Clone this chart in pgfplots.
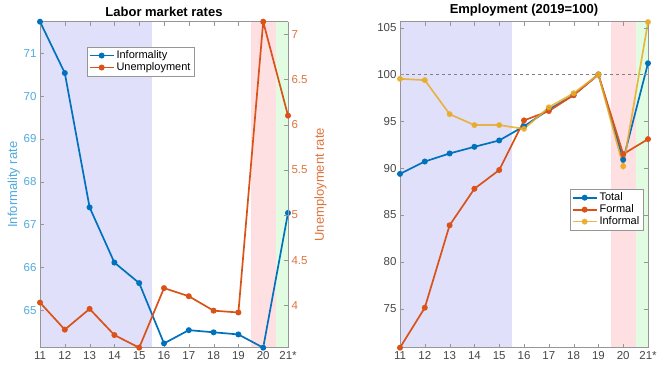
\documentclass[border=0pt]{standalone}
\usepackage{fontspec}
\setmainfont{Liberation Sans}
\usepackage{pgfplots}
\pgfplotsset{compat=1.18}
\definecolor{mblue}{RGB}{0,114,189}
\definecolor{morange}{RGB}{217,83,25}
\definecolor{myellow}{RGB}{232,172,40}
\definecolor{shblue}{RGB}{224,224,250}
\definecolor{shred}{RGB}{255,224,226}
\definecolor{shgreen}{RGB}{226,252,226}
\definecolor{lblue}{RGB}{80,170,220}
\definecolor{lorange}{RGB}{222,115,60}
\definecolor{tgray}{RGB}{70,70,70}
\definecolor{agray}{RGB}{150,150,150}
\begin{document}
\begin{tikzpicture}[x=1pt,y=1pt]
\useasboundingbox (0,0) rectangle (657,367);
\pgfplotsset{
  base/.style={
    scale only axis, width=248pt, height=326pt, anchor=south west,
    xmin=11, xmax=21,
    xtick={11,...,21}, xticklabels={11,12,13,14,15,16,17,18,19,20,21*},
    tick align=inside, major tick length=4pt,
    axis line style={agray}, tick style={agray},
    ticklabel style={font=\fontsize{11.5}{13}\selectfont, text=tgray},
    /pgf/number format/assume math mode=true,
    axis on top,
    title style={font=\bfseries\fontsize{13}{15}\selectfont, yshift=-4pt},
    legend style={font=\fontsize{11}{12.5}\selectfont, draw=agray, fill=white,
      inner sep=1.5pt, row sep=-1.5pt, cells={anchor=west}},
    legend cell align=left,
    legend image code/.code={\draw[mark repeat=2,mark phase=2,##1] plot coordinates {(0pt,0pt) (12pt,0pt) (24pt,0pt)};},
  },
  ln/.style={line width=1.7pt, mark=*, mark size=2.1pt},
}
% ---------- Left panel, primary axis ----------
\begin{axis}[base, at={(40pt,19.3pt)},
  ymin=64.12, ymax=71.74, ytick={65,...,71},
  axis y line*=left,
  yticklabel style={text=lblue},
  ylabel={Informality rate}, ylabel style={text=lblue, font=\fontsize{13}{15}\selectfont, yshift=-3pt},
  title={Labor market rates}]
\addplot[fill=shblue, draw=none] coordinates {(11,64.12) (15.5,64.12) (15.5,71.74) (11,71.74)} -- cycle;
\addplot[fill=shred, draw=none] coordinates {(19.5,64.12) (20.5,64.12) (20.5,71.74) (19.5,71.74)} -- cycle;
\addplot[fill=shgreen, draw=none] coordinates {(20.5,64.12) (21,64.12) (21,71.74) (20.5,71.74)} -- cycle;
\addplot[ln, mblue] coordinates {(11,71.74) (12,70.54) (13,67.40) (14,66.11) (15,65.63) (16,64.22) (17,64.53) (18,64.48) (19,64.43) (20,64.12) (21,67.27)};
\end{axis}
% ---------- Left panel, secondary axis ----------
\begin{axis}[base, at={(40pt,19.3pt)},
  ymin=3.53, ymax=7.14, ytick={4,4.5,...,7},
  axis y line*=right, axis x line=none,
  yticklabel style={text=lorange},
  ylabel={Unemployment rate}, ylabel style={text=lorange, font=\fontsize{13}{15}\selectfont},
  legend style={at={(0.19,0.922)}, anchor=north west}]
\addlegendimage{ln, mblue}
\addlegendentry{Informality}
\addplot[ln, morange] coordinates {(11,4.03) (12,3.73) (13,3.96) (14,3.67) (15,3.53) (16,4.19) (17,4.10) (18,3.94) (19,3.92) (20,7.14) (21,6.10)};
\addlegendentry{Unemployment}
\end{axis}
% ---------- Right panel ----------
\begin{axis}[base, at={(400pt,19.3pt)},
  ymin=70.83, ymax=105.64, ytick={75,80,...,105},
  title={Employment (2019=100)},
  legend style={at={(0.686,0.486)}, anchor=north west}]
\addplot[fill=shblue, draw=none, forget plot] coordinates {(11,70.83) (15.5,70.83) (15.5,105.64) (11,105.64)} -- cycle;
\addplot[fill=shred, draw=none, forget plot] coordinates {(19.5,70.83) (20.5,70.83) (20.5,105.64) (19.5,105.64)} -- cycle;
\addplot[fill=shgreen, draw=none, forget plot] coordinates {(20.5,70.83) (21,70.83) (21,105.64) (20.5,105.64)} -- cycle;
\addplot[gray, dashed, line width=0.9pt, forget plot] coordinates {(11,100) (21,100)};
\addplot[ln, mblue] coordinates {(11,89.39) (12,90.71) (13,91.57) (14,92.28) (15,92.96) (16,94.47) (17,96.25) (18,97.8) (19,100) (20,90.9) (21,101.2)};
\addlegendentry{Total}
\addplot[ln, morange] coordinates {(11,70.83) (12,75.1) (13,83.9) (14,87.8) (15,89.8) (16,95.1) (17,96.1) (18,97.8) (19,100) (20,91.5) (21,93.1)};
\addlegendentry{Formal}
\addplot[ln, myellow, opacity=0.85] coordinates {(11,99.54) (12,99.4) (13,95.77) (14,94.6) (15,94.6) (16,94.2) (17,96.5) (18,98.0) (19,100) (20,90.2) (21,105.6)};
\addlegendentry{Informal}
\end{axis}
\end{tikzpicture}
\end{document}
